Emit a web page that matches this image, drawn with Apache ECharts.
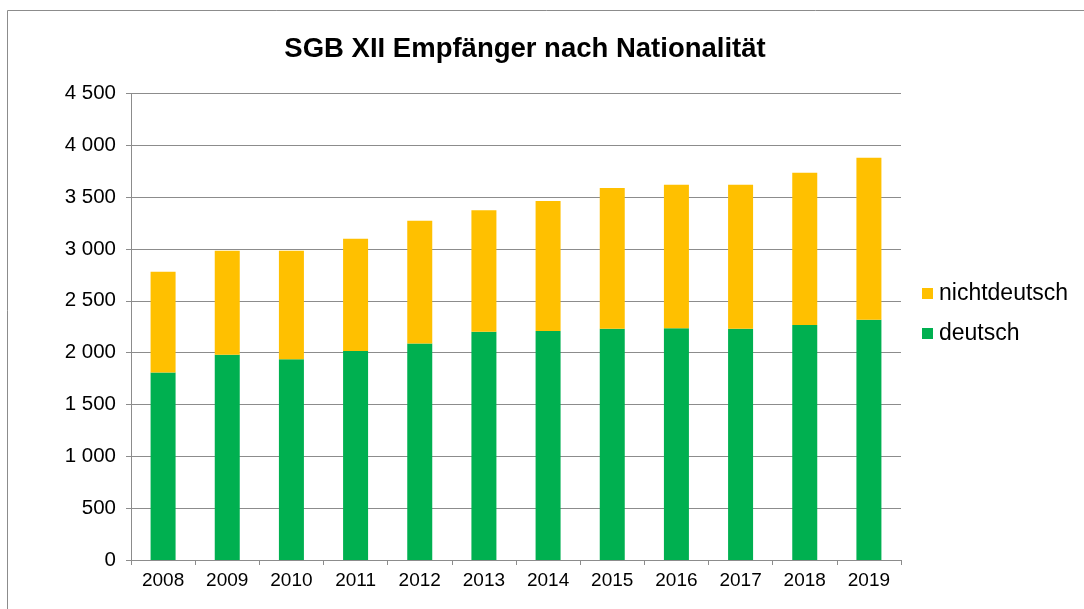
<!DOCTYPE html>
<html>
<head>
<meta charset="utf-8">
<script src="https://cdn.jsdelivr.net/npm/echarts@6/dist/echarts.min.js"></script>
<style>
  html, body { margin: 0; padding: 0; background: #fff; }
  #chart { width: 1084px; height: 609px; }
</style>
</head>
<body>
<div id="chart"></div>
<script>
// Jahre und Empfängerzahlen (SGB XII)
const years = ['2008', '2009', '2010', '2011', '2012', '2013', '2014', '2015', '2016', '2017', '2018', '2019'];
const deutsch = [1808, 1979, 1937, 2017, 2088, 2201, 2210, 2230, 2236, 2230, 2268, 2317];
const nichtdeutsch = [972, 1004, 1046, 1081, 1184, 1174, 1252, 1358, 1384, 1390, 1467, 1563];
const yTicks = [0, 500, 1000, 1500, 2000, 2500, 3000, 3500, 4000, 4500];

const FONT = 'Liberation Sans, Arial, sans-serif';
const GRID_COLOR = '#8c8c8c';

// Tausendertrennzeichen als Leerzeichen, z. B. "4 500"
function fmt(v) {
  const s = String(Math.round(v));
  return s.replace(/\B(?=(\d{3})+(?!\d))/g, '\u00a0');
}

const chart = echarts.init(document.getElementById('chart'), null, { renderer: 'canvas' });

chart.setOption({
  animation: false,
  backgroundColor: '#ffffff',
  graphic: [{
    type: 'rect',
    shape: { x: 7.5, y: 10.5, width: 1200, height: 700 },
    style: { fill: 'none', stroke: '#8c8c8c', lineWidth: 1 },
    silent: true,
    z: -1
  }],
  title: {
    text: 'SGB XII Empfänger nach Nationalität',
    left: 520,
    textAlign: 'center',
    top: 30,
    textStyle: { fontFamily: FONT, fontSize: 27.5, fontWeight: 'bold', color: '#000' }
  },
  legend: {
    orient: 'vertical',
    left: 922,
    top: 282,
    padding: 0,
    itemWidth: 11,
    itemHeight: 11,
    itemGap: 17,
    icon: 'rect',
    data: ['nichtdeutsch', 'deutsch'],
    textStyle: { fontFamily: FONT, fontSize: 23, color: '#000', padding: [0, 0, 0, 1], lineHeight: 23 }
  },
  grid: { left: 131, right: 183, top: 93.5, bottom: 49, containLabel: false },
  xAxis: {
    type: 'category',
    data: years,
    boundaryGap: true,
    axisLine: { lineStyle: { color: GRID_COLOR, width: 1 } },
    axisTick: { show: true, length: 5, lineStyle: { color: GRID_COLOR } },
    axisLabel: { fontFamily: FONT, fontSize: 19, color: '#000', margin: 11 }
  },
  yAxis: {
    type: 'value',
    min: yTicks[0],
    max: yTicks[yTicks.length - 1],
    interval: 500,
    axisLine: { show: true, lineStyle: { color: GRID_COLOR, width: 1 } },
    axisTick: { show: true, length: 5, lineStyle: { color: GRID_COLOR } },
    splitLine: { show: true, lineStyle: { color: GRID_COLOR, width: 1 } },
    axisLabel: { fontFamily: FONT, fontSize: 20.5, color: '#000', margin: 15, formatter: fmt }
  },
  series: [
    {
      name: 'deutsch',
      type: 'bar',
      stack: 'gesamt',
      data: deutsch,
      barWidth: 25,
      itemStyle: { color: '#00b050' }
    },
    {
      name: 'nichtdeutsch',
      type: 'bar',
      stack: 'gesamt',
      data: nichtdeutsch,
      barWidth: 25,
      itemStyle: { color: '#ffc000' }
    }
  ]
});
</script>
</body>
</html>
